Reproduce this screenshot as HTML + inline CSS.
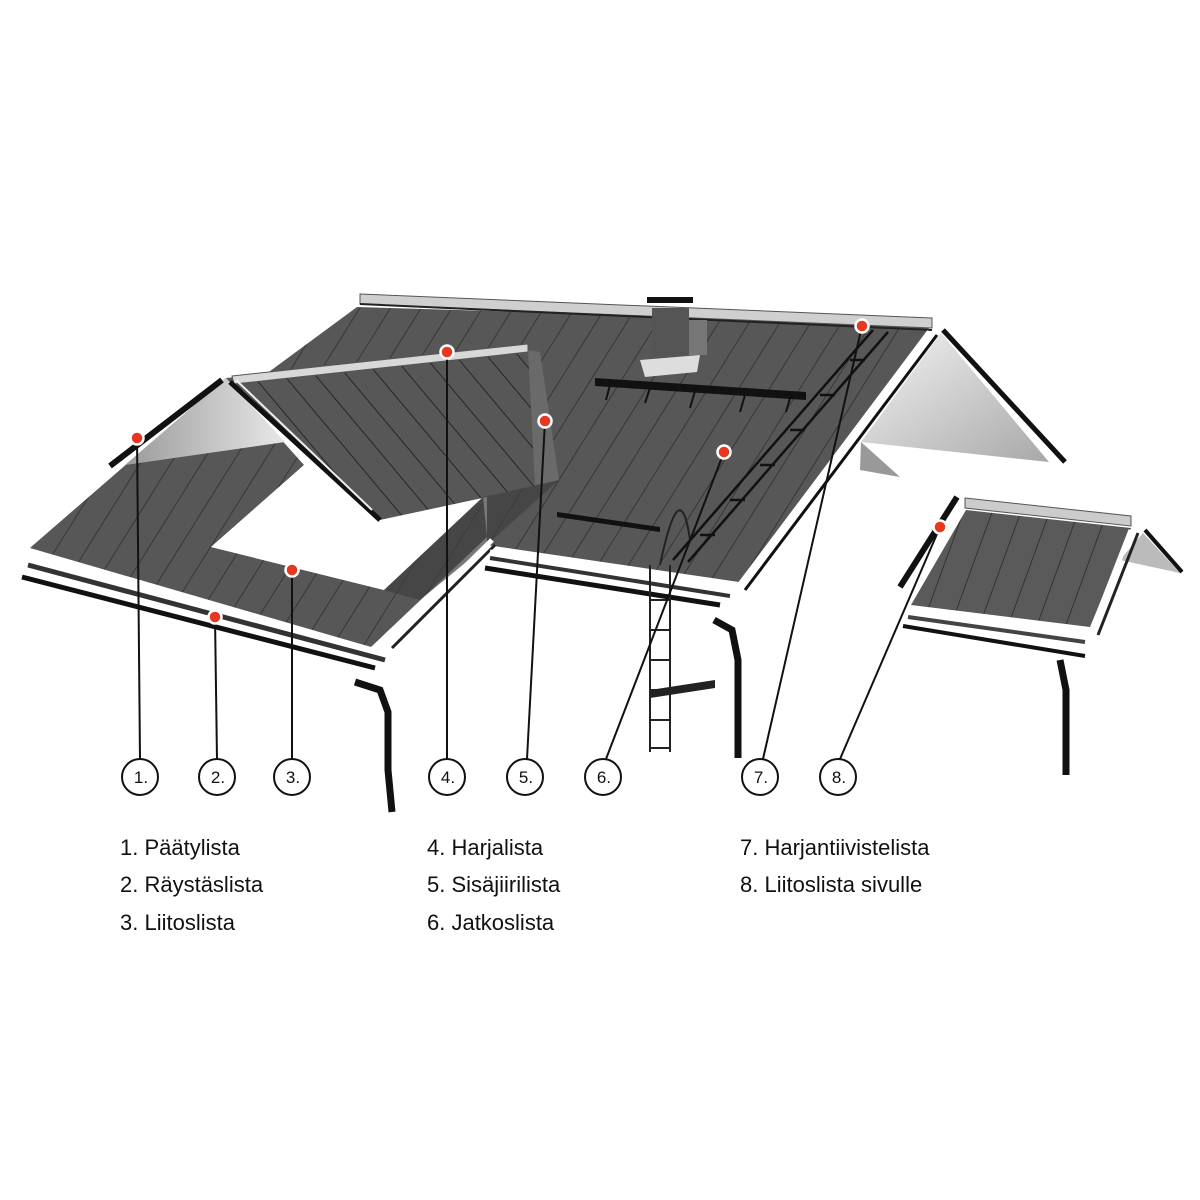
<!DOCTYPE html>
<html><head><meta charset="utf-8"><style>
html,body{margin:0;padding:0;background:#fff;}
.lg{position:absolute;font-family:"Liberation Sans",sans-serif;font-size:22px;color:#111;}
</style></head><body>
<div style="position:relative;width:1200px;height:1200px;overflow:hidden;">
<svg width="1200" height="1200" viewBox="0 0 1200 1200" xmlns="http://www.w3.org/2000/svg">
<defs>
<pattern id="pm" patternUnits="userSpaceOnUse" width="26" height="26" patternTransform="rotate(32)">
<rect width="26" height="26" fill="#575757"/><line x1="0" y1="0" x2="0" y2="26" stroke="#2a2a2a" stroke-width="1.4"/></pattern>
<pattern id="pd" patternUnits="userSpaceOnUse" width="24" height="24" patternTransform="rotate(-40)">
<rect width="24" height="24" fill="#575757"/><line x1="0" y1="0" x2="0" y2="24" stroke="#1a1a1a" stroke-width="1.6"/></pattern>
<pattern id="ps" patternUnits="userSpaceOnUse" width="27" height="27" patternTransform="rotate(20)">
<rect width="27" height="27" fill="#5a5a5a"/><line x1="0" y1="0" x2="0" y2="27" stroke="#222" stroke-width="1.4"/></pattern>
<linearGradient id="gw" x1="0" y1="0" x2="1" y2="1"><stop offset="0" stop-color="#f4f4f4"/><stop offset="1" stop-color="#a8a8a8"/></linearGradient>
<linearGradient id="gw2" x1="0" y1="0" x2="1" y2="0"><stop offset="0" stop-color="#9a9a9a"/><stop offset="1" stop-color="#e8e8e8"/></linearGradient>
</defs>
<polygon points="941,333 1049,462 861,442" fill="url(#gw)"/>
<polygon points="861,442 900,477 860,470" fill="#999"/>
<line x1="943" y1="330" x2="1065" y2="462" stroke="#111" stroke-width="5"/>
<polygon points="357,307 932,324 739,582 487,545 487,497 559,480 528,348 226,378 30,548" fill="url(#pm)"/>
<polygon points="30,548 226,378 304,465 211,547 384,590 483,497 487,537 371,647" fill="url(#pm)"/>
<polygon points="211,547 304,465 380,520 483,497 384,590" fill="#fff"/>
<polygon points="360,294 932,318 932,328 360,304" fill="#cfcfcf" stroke="#555" stroke-width="1"/>
<line x1="360" y1="304" x2="932" y2="330" stroke="#222" stroke-width="2"/>
<polygon points="226,378 285,442 125,465" fill="url(#gw2)"/>
<line x1="110" y1="466" x2="222" y2="380" stroke="#111" stroke-width="6"/>
<polygon points="232,380 528,350 559,480 487,497 380,520" fill="url(#pd)"/>
<polygon points="528,350 540,352 559,480 535,485" fill="#6a6a6a"/>
<polygon points="232,376 528,344 528,352 234,384" fill="#d8d8d8" stroke="#555" stroke-width="1"/>
<line x1="230" y1="382" x2="380" y2="520" stroke="#111" stroke-width="5"/>
<line x1="236" y1="380" x2="372" y2="510" stroke="#eee" stroke-width="2"/>
<polygon points="483,497 559,480 487,545 420,600 384,590" fill="#3e3e3e" opacity="0.7"/>
<polygon points="652,308 689,308 689,358 652,360" fill="#555"/>
<rect x="689" y="320" width="18" height="35" fill="#777"/>
<polygon points="647,297 693,297 693,303 647,303" fill="#111"/>
<polygon points="640,360 700,355 697,372 645,377" fill="#ddd"/>
<polygon points="595,378 806,392 806,400 595,386" fill="#111"/>
<g stroke="#111" stroke-width="2"><line x1="610" y1="385" x2="606" y2="400"/><line x1="650" y1="388" x2="645" y2="403"/><line x1="695" y1="391" x2="690" y2="408"/><line x1="745" y1="395" x2="740" y2="412"/><line x1="790" y1="398" x2="786" y2="412"/></g>
<polygon points="557,512 660,527 660,532 557,517" fill="#111"/>
<g stroke="#111" stroke-width="2.5"><line x1="873" y1="330" x2="673" y2="560"/><line x1="888" y1="332" x2="688" y2="562"/>
<line x1="850" y1="360" x2="865" y2="360"/><line x1="820" y1="395" x2="835" y2="395"/><line x1="790" y1="430" x2="805" y2="430"/><line x1="760" y1="465" x2="775" y2="465"/><line x1="730" y1="500" x2="745" y2="500"/><line x1="700" y1="535" x2="715" y2="535"/></g>
<line x1="930" y1="332" x2="740" y2="585" stroke="#fff" stroke-width="6"/>
<line x1="937" y1="335" x2="745" y2="590" stroke="#111" stroke-width="3"/>
<line x1="30" y1="556" x2="378" y2="652" stroke="#fff" stroke-width="6"/>
<line x1="28" y1="565" x2="385" y2="660" stroke="#333" stroke-width="5"/>
<line x1="22" y1="577" x2="375" y2="668" stroke="#111" stroke-width="5"/>
<line x1="492" y1="540" x2="385" y2="645" stroke="#fff" stroke-width="5"/>
<line x1="495" y1="545" x2="392" y2="648" stroke="#222" stroke-width="3"/>
<line x1="490" y1="552" x2="730" y2="590" stroke="#fff" stroke-width="5"/>
<line x1="490" y1="558" x2="730" y2="596" stroke="#333" stroke-width="4"/>
<line x1="485" y1="568" x2="720" y2="605" stroke="#111" stroke-width="5"/>
<path d="M355,682 L380,690 L388,712 L388,770 L392,812" fill="none" stroke="#111" stroke-width="7"/>
<path d="M714,620 L732,630 L738,660 L738,758" fill="none" stroke="#111" stroke-width="7"/>
<path d="M1060,660 L1066,690 L1066,775" fill="none" stroke="#111" stroke-width="7"/>
<g stroke="#222" stroke-width="2"><line x1="650" y1="565" x2="650" y2="752"/><line x1="670" y1="565" x2="670" y2="752"/>
<line x1="650" y1="600" x2="670" y2="600"/><line x1="650" y1="630" x2="670" y2="630"/><line x1="650" y1="660" x2="670" y2="660"/><line x1="650" y1="690" x2="670" y2="690"/><line x1="650" y1="720" x2="670" y2="720"/><line x1="650" y1="748" x2="670" y2="748"/>
<path d="M660,565 Q680,470 690,540" fill="none"/></g>
<polygon points="650,690 715,680 715,688 650,698" fill="#222"/>
<polygon points="1143,533 1180,573 1120,560" fill="#bbb"/>
<line x1="1145" y1="530" x2="1182" y2="572" stroke="#111" stroke-width="4"/>
<polygon points="966,510 1131,528 1090,627 911,605" fill="url(#ps)"/>
<polygon points="965,498 1131,516 1131,526 965,508" fill="#ccc" stroke="#555" stroke-width="1"/>
<line x1="957" y1="497" x2="900" y2="587" stroke="#111" stroke-width="6"/>
<line x1="1131" y1="530" x2="1092" y2="630" stroke="#fff" stroke-width="5"/>
<line x1="1138" y1="533" x2="1098" y2="635" stroke="#222" stroke-width="3"/>
<line x1="910" y1="612" x2="1085" y2="637" stroke="#fff" stroke-width="4"/>
<line x1="908" y1="617" x2="1085" y2="642" stroke="#444" stroke-width="4"/>
<line x1="903" y1="626" x2="1085" y2="656" stroke="#111" stroke-width="4"/>
<g stroke="#111" stroke-width="2">
<line x1="137" y1="438" x2="140" y2="759"/><line x1="215" y1="617" x2="217" y2="759"/><line x1="292" y1="570" x2="292" y2="759"/>
<line x1="447" y1="352" x2="447" y2="759"/><line x1="545" y1="421" x2="527" y2="759"/><line x1="724" y1="452" x2="606" y2="759"/>
<line x1="862" y1="326" x2="763" y2="759"/><line x1="940" y1="527" x2="840" y2="759"/></g>
<g fill="#e8371f" stroke="#fff" stroke-width="2.5">
<circle cx="137" cy="438" r="6.5"/><circle cx="215" cy="617" r="6.5"/><circle cx="292" cy="570" r="6.5"/><circle cx="447" cy="352" r="6.5"/>
<circle cx="545" cy="421" r="6.5"/><circle cx="724" cy="452" r="6.5"/><circle cx="862" cy="326" r="6.5"/><circle cx="940" cy="527" r="6.5"/></g>
<g fill="#fff" stroke="#111" stroke-width="2">
<circle cx="140" cy="777" r="18"/><circle cx="217" cy="777" r="18"/><circle cx="292" cy="777" r="18"/><circle cx="447" cy="777" r="18"/>
<circle cx="525" cy="777" r="18"/><circle cx="603" cy="777" r="18"/><circle cx="760" cy="777" r="18"/><circle cx="838" cy="777" r="18"/></g>
<g font-family="Liberation Sans, sans-serif" font-size="17" fill="#111" text-anchor="middle">
<text x="141" y="783">1.</text><text x="218" y="783">2.</text><text x="293" y="783">3.</text><text x="448" y="783">4.</text>
<text x="526" y="783">5.</text><text x="604" y="783">6.</text><text x="761" y="783">7.</text><text x="839" y="783">8.</text></g>
</svg>
<div class="lg" style="left:120px;top:835px">1. Päätylista</div>
<div class="lg" style="left:120px;top:872px">2. Räystäslista</div>
<div class="lg" style="left:120px;top:910px">3. Liitoslista</div>
<div class="lg" style="left:427px;top:835px">4. Harjalista</div>
<div class="lg" style="left:427px;top:872px">5. Sisäjiirilista</div>
<div class="lg" style="left:427px;top:910px">6. Jatkoslista</div>
<div class="lg" style="left:740px;top:835px">7. Harjantiivistelista</div>
<div class="lg" style="left:740px;top:872px">8. Liitoslista sivulle</div>
</div>
</body></html>
